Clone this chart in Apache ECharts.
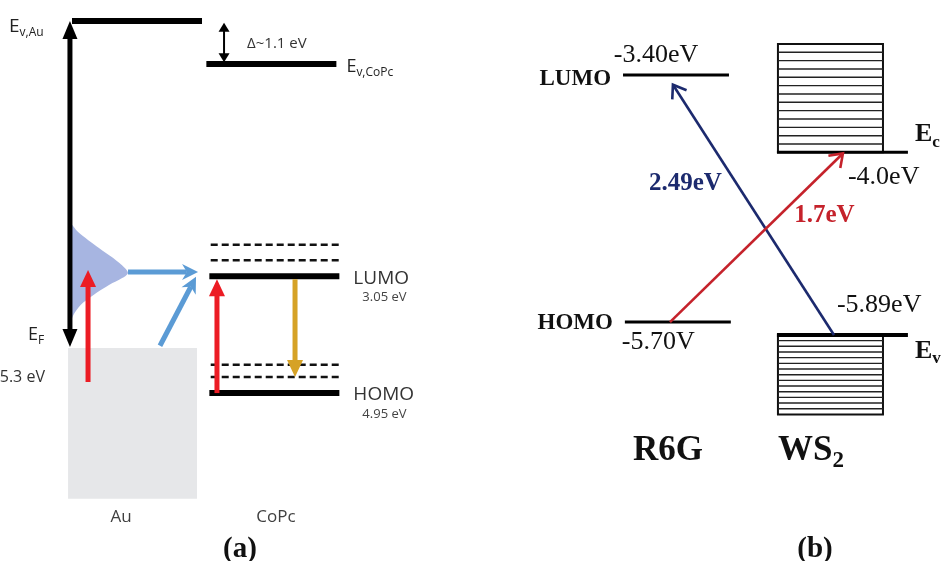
<!DOCTYPE html>
<html><head><meta charset="utf-8">
<script src="https://cdn.jsdelivr.net/npm/echarts@6/dist/echarts.min.js"></script>
<style>html,body{margin:0;padding:0;background:#fff}#c{width:946px;height:561px}</style>
</head><body><div id="c"></div>
<script>
// ===== Panel (a): Au / CoPc — energies in eV, Au vacuum level = 0 =====
const aColumns = ['Au', 'CoPc'];                 // column 1, column 2
const aLevelNames = ['Ev,Au', 'Ev,CoPc', 'LUMO', 'HOMO'];
const aLevelColumn = [1, 2, 2, 2];
const aLevelEnergy = [0.00, -0.70, -4.15, -6.05];
const aLevelValueText = ['', '', '3.05 eV', '4.95 eV'];
const aDashedColumn = [2, 2, 2, 2];
const aDashedEnergy = [-3.64, -3.89, -5.59, -5.79];
const auFermiEnergy = -5.3;
const auFermiText = '5.3 eV';
const auBandBottom = -7.77;
const auDosEnergy = [-3.27, -3.43, -3.69, -3.85, -4.02, -4.10, -4.18, -4.29, -4.46, -4.62, -4.78, -4.94];
const auDosWeight = [0, 0.14, 0.50, 0.74, 0.95, 1.00, 0.90, 0.68, 0.40, 0.18, 0.06, 0];
const aGapText = 'Δ~1.1 eV';
// arrows: [x0, e0, x1, e1]  (from -> to)
const aArrows = [
  [0.507, -5.30, 0.507, 0.00],  // vacuum <-> Fermi level of Au
  [1.640, -0.67, 1.640, -0.03], // Δ between vacuum levels
  [0.640, -5.87, 0.640, -4.05], // excitation in Au
  [0.934, -4.08, 1.449, -4.08], // hot-electron transfer
  [1.169, -5.28, 1.434, -4.16], // direct transfer
  [1.588, -6.05, 1.588, -4.20], // excitation in CoPc
  [2.162, -4.20, 2.162, -5.79]  // relaxation in CoPc
];
const aArrowKinds = ['double', 'doubleThin', 'red', 'blue', 'blue', 'red', 'gold'];

// ===== Panel (b): R6G / WS2 — energies in eV =====
const bColumns = ['R6G', 'WS2'];
const r6gLevelNames = ['LUMO', 'HOMO'];
const r6gLevelEnergy = [-3.40, -5.70];
const r6gLevelText = ['-3.40eV', '-5.70V'];
const ws2EdgeNames = ['c', 'v'];
const ws2EdgeEnergy = [-4.12, -5.82];          // Ec, Ev (as drawn)
const ws2EdgeText = ['-4.0eV', '-5.89eV'];
const ws2BandLimit = [-3.11, -6.56];           // top of CB block, bottom of VB block
const ws2BandLines = [12, 13];                 // hatching lines inside each block
const bArrows = [
  [2.026, -5.82, 0.980, -3.49],  // WS2 Ev -> R6G LUMO
  [0.961, -5.70, 2.084, -4.13]   // R6G HOMO -> WS2 Ec
];
const bArrowText = ['2.49eV', '1.7eV'];
const bArrowColor = ['#1c2a6e', '#c5222b'];

// ===== helpers =====
const SANS = 'Open Sans', SERIF = 'Liberation Serif';
const mctx = document.createElement('canvas').getContext('2d');
function tw(text, size, o) { o = o || {}; mctx.font = (o.weight || 'normal') + ' ' + size + 'px "' + (o.family || SANS) + '"'; return mctx.measureText(text).width; }
function T(x, y, text, size, o) {
  o = o || {};
  return { type: 'text', x: x, y: y, style: { text: text, fill: o.color || '#111', fontSize: size, fontFamily: o.family || SANS, fontWeight: o.weight || 'normal', align: o.align || 'left', verticalAlign: 'middle' } };
}
function TS(x, y, main, sub, size, subSize, subDy, o) {
  o = o || {};
  const w = tw(main, size, o);
  return [T(x, y, main, size, o), T(x + w + (o.gap || 0), y + subDy, sub, subSize, o)];
}
function L(p0, p1, color, width, dash) {
  return { type: 'line', shape: { x1: p0[0], y1: p0[1], x2: p1[0], y2: p1[1] }, style: { stroke: color, lineWidth: width, lineDash: dash || null, lineCap: 'butt' } };
}
function arrow(p0, p1, o) {
  const dx = p1[0] - p0[0], dy = p1[1] - p0[1], len = Math.hypot(dx, dy), ux = dx / len, uy = dy / len;
  const ch = [];
  function head(tip, sx, sy) {
    const bx = tip[0] - sx * o.headLen, by = tip[1] - sy * o.headLen, hw = o.headWid / 2, nx = -sy, ny = sx;
    const a = [bx + nx * hw, by + ny * hw], b = [bx - nx * hw, by - ny * hw];
    if (o.style === 'open') {
      ch.push({ type: 'polyline', shape: { points: [a, tip, b] }, style: { stroke: o.color, lineWidth: o.width, fill: null, lineJoin: 'miter' } });
    } else {
      const pts = o.style === 'notch' ? [tip, a, [bx + sx * o.headLen * 0.3, by + sy * o.headLen * 0.3], b] : [tip, a, b];
      ch.push({ type: 'polygon', shape: { points: pts }, style: { fill: o.color } });
    }
  }
  const back = o.style === 'open' ? o.width * 0.6 : o.headLen * 0.7;
  let s = p0;
  const e = [p1[0] - ux * back, p1[1] - uy * back];
  if (o.both) { s = [p0[0] + ux * back, p0[1] + uy * back]; head(p0, -ux, -uy); }
  head(p1, ux, uy);
  ch.unshift(L(s, e, o.color, o.width));
  return ch;
}
const aArrowStyle = {
  double: { color: '#000', width: 5, headLen: 18, headWid: 15, style: 'fill', both: true },
  doubleThin: { color: '#000', width: 2, headLen: 9, headWid: 11, style: 'fill', both: true },
  red: { color: '#ec1c24', width: 5, headLen: 17, headWid: 16, style: 'fill' },
  blue: { color: '#5b9bd5', width: 5, headLen: 16, headWid: 16, style: 'notch' },
  gold: { color: '#d6a226', width: 5, headLen: 17, headWid: 16, style: 'fill' }
};
const HALF_A = 0.478;

const series = [];
// Au band (gray block) + Fermi labels
series.push({
  type: 'custom', xAxisIndex: 0, yAxisIndex: 0, z: 1, silent: true,
  data: [[1, auFermiEnergy, auBandBottom]],
  renderItem: function (params, api) {
    const tl = api.coord([api.value(0) - 0.507, api.value(1)]);
    const br = api.coord([api.value(0) + 0.441, api.value(2)]);
    const f = api.coord([aArrows[0][0], auFermiEnergy]);
    const ch = [{ type: 'rect', shape: { x: tl[0], y: tl[1] + 1, width: br[0] - tl[0], height: br[1] - tl[1] - 1 }, style: { fill: '#e6e7e9' } }];
    ch.push.apply(ch, TS(f[0] - 42, f[1] - 12, 'E', 'F', 18, 12, 6, { color: '#222' }));
    ch.push(T(f[0] - 25, f[1] + 30, auFermiText, 16, { align: 'right', color: '#333' }));
    return { type: 'group', children: ch };
  }
});
// Au density of states (hot electrons)
series.push({
  type: 'custom', xAxisIndex: 0, yAxisIndex: 0, z: 2, silent: true,
  data: [[aArrows[0][0], auDosEnergy[5]]],
  renderItem: function (params, api) {
    const x0 = api.coord([api.value(0), 0])[0];
    const wpx = api.coord([api.value(0) + 0.4265, 0])[0] - x0;
    const pts = auDosEnergy.map(function (e, i) { return [x0 + auDosWeight[i] * wpx, api.coord([0, e])[1]]; });
    pts.push([x0, api.coord([0, auDosEnergy[auDosEnergy.length - 1]])[1]]);
    pts.unshift([x0, api.coord([0, auDosEnergy[0]])[1]]);
    return { type: 'polygon', shape: { points: pts, smooth: 0.3 }, style: { fill: '#a7b5e1' } };
  }
});
// dashed CoPc states
series.push({
  type: 'custom', xAxisIndex: 0, yAxisIndex: 0, z: 3, silent: true,
  data: aDashedEnergy.map(function (e, i) { return [aDashedColumn[i], e]; }),
  renderItem: function (params, api) {
    const p0 = api.coord([api.value(0) - HALF_A + 0.02, api.value(1)]);
    const p1 = api.coord([api.value(0) + HALF_A + 0.02, api.value(1)]);
    return L(p0, p1, '#111', 2.5, [7, 4]);
  }
});
// solid levels + labels (panel a)
series.push({
  type: 'custom', xAxisIndex: 0, yAxisIndex: 0, z: 4, silent: true,
  data: aLevelEnergy.map(function (e, i) { return [aLevelColumn[i], e]; }),
  renderItem: function (params, api) {
    const i = params.dataIndex;
    const shift = i === 1 ? -0.012 : (i >= 2 ? 0.01 : 0);
    const p0 = api.coord([api.value(0) - HALF_A + shift, api.value(1)]);
    const p1 = api.coord([api.value(0) + HALF_A + shift, api.value(1)]);
    const ch = [L(p0, p1, '#000', 6)];
    const name = aLevelNames[i];
    if (i === 0) ch.push.apply(ch, TS(p0[0] - 63, p0[1] + 6, 'E', 'v,Au', 19, 12, 6, { color: '#222' }));
    else if (i === 1) ch.push.apply(ch, TS(p1[0] + 10, p1[1] + 3, 'E', 'v,CoPc', 18, 12, 6, { color: '#222' }));
    else {
      ch.push(T(p1[0] + 14, p1[1] + 2, name, 19, { color: '#333' }));
      ch.push(T(p1[0] + 23, p1[1] + 21, aLevelValueText[i], 13, { color: '#444' }));
    }
    return { type: 'group', children: ch };
  }
});
// arrows (panel a)
series.push({
  type: 'custom', xAxisIndex: 0, yAxisIndex: 0, z: 5, silent: true,
  data: aArrows,
  renderItem: function (params, api) {
    const i = params.dataIndex;
    const p0 = api.coord([api.value(0), api.value(1)]);
    const p1 = api.coord([api.value(2), api.value(3)]);
    const ch = arrow(p0, p1, aArrowStyle[aArrowKinds[i]]);
    if (aArrowKinds[i] === 'doubleThin') ch.push(T(p0[0] + 23, (p0[1] + p1[1]) / 2 + 1, aGapText, 15, { color: '#333' }));
    return { type: 'group', children: ch };
  }
});
// column names (panel a)
series.push({
  type: 'custom', xAxisIndex: 0, yAxisIndex: 0, z: 5, silent: true,
  data: aColumns.map(function (c, i) { return [i + 1, -7.9]; }),
  renderItem: function (params, api) {
    const p = api.coord([api.value(0), api.value(1)]);
    const dx = params.dataIndex === 0 ? -16 : 3;
    return T(p[0] + dx, p[1] + 10, aColumns[params.dataIndex], 17, { align: 'center', color: '#404040' });
  }
});

// ===== panel b =====
const HALF_B = 0.344;
series.push({
  type: 'custom', xAxisIndex: 1, yAxisIndex: 1, z: 4, silent: true,
  data: r6gLevelEnergy.map(function (e) { return [1, e]; }),
  renderItem: function (params, api) {
    const i = params.dataIndex;
    const sh = i === 1 ? 0.012 : 0;
    const p0 = api.coord([api.value(0) - HALF_B + sh, api.value(1)]);
    const p1 = api.coord([api.value(0) + HALF_B + sh, api.value(1)]);
    const ch = [L(p0, p1, '#000', 3)];
    const f = { family: SERIF, color: '#111' };
    ch.push(T(p0[0] - 12, p0[1] + (i === 0 ? 4 : 1), r6gLevelNames[i], 23, { family: SERIF, weight: 'bold', align: 'right', color: '#111' }));
    if (i === 0) ch.push(T(p0[0] + 33, p0[1] - 20, r6gLevelText[i], 26, { family: SERIF, color: '#111', align: 'center' }));
    else ch.push(T(p0[0] - 3, p0[1] + 20, r6gLevelText[i], 26, f));
    return { type: 'group', children: ch };
  }
});
series.push({
  type: 'custom', xAxisIndex: 1, yAxisIndex: 1, z: 4, silent: true,
  data: ws2EdgeEnergy.map(function (e, i) { return [2, e, ws2BandLimit[i]]; }),
  renderItem: function (params, api) {
    const i = params.dataIndex;
    const xl = api.coord([api.value(0) - 0.338, 0])[0];
    const xr = api.coord([api.value(0) + 0.344, 0])[0];
    const xe = api.coord([api.value(0) + 0.506, 0])[0];
    const ye = api.coord([0, api.value(1)])[1];
    const yl = api.coord([0, api.value(2)])[1];
    const ch = [];
    const top = Math.min(ye, yl), bot = Math.max(ye, yl);
    ch.push({ type: 'rect', shape: { x: xl, y: top, width: xr - xl, height: bot - top }, style: { fill: '#fff', stroke: '#111', lineWidth: 2 } });
    const n = ws2BandLines[i];
    for (let k = 1; k <= n; k++) {
      const y = top + (bot - top) * k / (n + 1);
      ch.push(L([xl, y], [xr, y], '#222', 1.4));
    }
    ch.push(L([xl - 1, ye], [xe, ye], '#000', i === 0 ? 3 : 4));
    const f = { family: SERIF, color: '#111' };
    const fb = { family: SERIF, color: '#111', weight: 'bold' };
    if (i === 0) {
      ch.push.apply(ch, TS(xe + 7, ye - 18, 'E', 'c', 26, 17, 8, fb));
      ch.push(T(xl + 70, ye + 25, ws2EdgeText[i], 26, f));
    } else {
      ch.push.apply(ch, TS(xe + 7, ye + 16, 'E', 'v', 26, 17, 8, fb));
      ch.push(T(xl + 59, ye - 30, ws2EdgeText[i], 26, f));
    }
    return { type: 'group', children: ch };
  }
});
series.push({
  type: 'custom', xAxisIndex: 1, yAxisIndex: 1, z: 6, silent: true,
  data: bArrows,
  renderItem: function (params, api) {
    const i = params.dataIndex;
    const p0 = api.coord([api.value(0), api.value(1)]);
    const p1 = api.coord([api.value(2), api.value(3)]);
    const ch = arrow(p0, p1, { color: bArrowColor[i], width: 2.6, headLen: 12, headWid: 17, style: 'open' });
    const mx = (p0[0] + p1[0]) / 2, my = (p0[1] + p1[1]) / 2;
    const off = i === 0 ? [-68, -26] : [68, -22];
    ch.push(T(mx + off[0], my + off[1], bArrowText[i], 25, { family: SERIF, weight: 'bold', color: bArrowColor[i], align: 'center' }));
    return { type: 'group', children: ch };
  }
});
series.push({
  type: 'custom', xAxisIndex: 1, yAxisIndex: 1, z: 5, silent: true,
  data: bColumns.map(function (c, i) { return [i + 1, -6.7]; }),
  renderItem: function (params, api) {
    const p = api.coord([api.value(0), api.value(1)]);
    const fb = { family: SERIF, color: '#111', weight: 'bold' };
    if (params.dataIndex === 0) return T(p[0] - 8, p[1] + 21, bColumns[0], 35, Object.assign({ align: 'center' }, fb));
    return { type: 'group', children: TS(p[0] - 52, p[1] + 21, 'WS', '2', 35, 23, 11, fb) };
  }
});

const chart = echarts.init(document.getElementById('c'), null, { renderer: 'canvas' });
chart.setOption({
  backgroundColor: '#fff',
  animation: false,
  title: [
    { text: '(a)', left: 235, top: 530, textAlign: 'center', textStyle: { fontFamily: SERIF, fontWeight: 'bold', fontSize: 29, color: '#111' } },
    { text: '(b)', left: 810, top: 530, textAlign: 'center', textStyle: { fontFamily: SERIF, fontWeight: 'bold', fontSize: 29, color: '#111' } }
  ],
  grid: [
    { left: 55.4, top: 8.7, width: 299.2, height: 498.15 },
    { left: 599, top: 10.6, width: 308, height: 418.86 }
  ],
  xAxis: [
    { gridIndex: 0, type: 'value', min: 0.4, max: 2.6, show: false },
    { gridIndex: 1, type: 'value', min: 0.5, max: 2.5, show: false }
  ],
  yAxis: [
    { gridIndex: 0, type: 'value', min: -7.9, max: 0.2, show: false },
    { gridIndex: 1, type: 'value', min: -6.7, max: -2.8, show: false }
  ],
  series: series
});
</script></body></html>
